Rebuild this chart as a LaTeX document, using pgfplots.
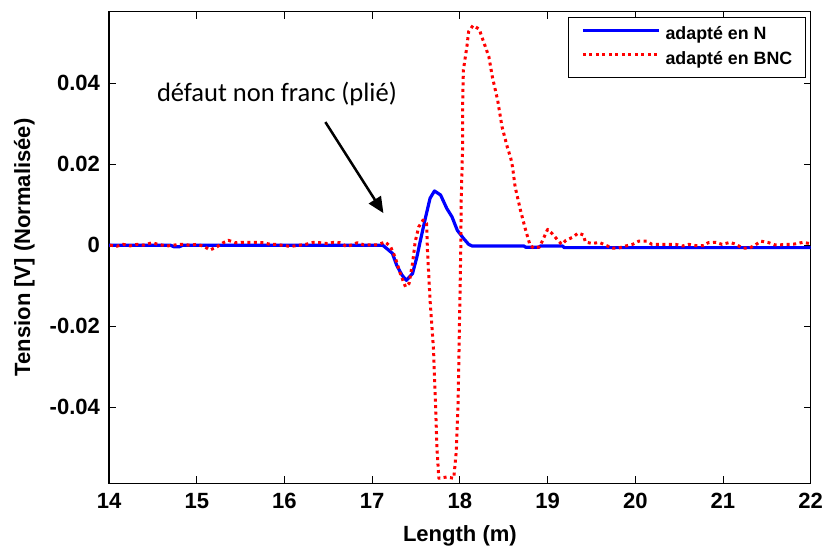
\documentclass[border=0pt]{standalone}
\usepackage{fontspec}
\setmainfont{Liberation Sans}
\newfontfamily\annfont{Carlito}
\usepackage{pgfplots}
\pgfplotsset{compat=1.18}
\usetikzlibrary{arrows.meta}
\begin{document}
\begin{tikzpicture}
\begin{axis}[
  scale only axis,
  width=701bp, height=471bp,
  at={(0,0)}, anchor=south west,
  xmin=14, xmax=22, ymin=-0.0588, ymax=0.0577,
  axis line style={line width=1.2bp},
  tick align=inside,
  xtick pos=both, ytick pos=both,
  major tick length=7bp,
  tick style={line width=0.8bp, black},
  xtick={14,15,16,17,18,19,20,21,22},
  xticklabels={14,15,16,17,18,19,20,21,22},
  ytick={-0.04,-0.02,0,0.02,0.04},
  yticklabels={-0.04,-0.02,0,0.02,0.04},
  scaled y ticks=false,
  scaled x ticks=false,
  every tick label/.append style={font=\bfseries\fontsize{22bp}{26bp}\selectfont},
  xticklabel style={inner sep=0pt, anchor=north, yshift=-10bp},
  yticklabel style={inner sep=0pt, anchor=east, xshift=-9bp},
  xlabel={Length (m)},
  ylabel={Tension [V] (Normalisée)},
  label style={font=\bfseries\fontsize{22bp}{26bp}\selectfont},
  xlabel style={at={(axis description cs:0.5,0)}, anchor=base, yshift=-58bp, inner sep=0pt},
  ylabel style={at={(axis description cs:-0.1127,0.5)}, anchor=base, inner sep=0pt},
  legend style={at={(axis description cs:0.9929,0.9887)}, anchor=north east,
    draw=black, line width=0.8bp, fill=white,
    font=\bfseries\fontsize{17.8bp}{21bp}\selectfont,
    inner xsep=13bp, inner ysep=10bp, row sep=9bp, column sep=5bp,
    nodes={inner sep=0pt, text height=12.5bp, text depth=3bp}},
  legend cell align=left,
  legend image code/.code={\draw[#1] (0bp,5bp) -- (76bp,5bp);},
  clip=true,
]
\addplot[color=blue, line width=3.2bp, line join=round] coordinates {
(14.00,0) (14.70,0) (14.74,-0.0004) (14.80,-0.0004) (14.84,0) (17.12,0)
(17.23,-0.0020) (17.28,-0.0050) (17.34,-0.0074) (17.39,-0.0087) (17.46,-0.0070)
(17.51,-0.0029) (17.55,0.0012) (17.61,0.0070) (17.66,0.0116) (17.71,0.0134)
(17.78,0.0124) (17.85,0.0091) (17.91,0.0070) (17.97,0.0037) (18.04,0.0017)
(18.10,0.0002) (18.14,-0.0002) (18.73,-0.0002) (18.75,-0.0005) (18.90,-0.0005)
(18.92,-0.0002) (19.17,-0.0002) (19.19,-0.0006) (22.00,-0.0006)
};
\addlegendentry{adapté en N}
\addplot[color=red, line width=3bp, dash pattern=on 3bp off 3.5bp, line join=round] coordinates {
(14.01,0) (14.09,-0.00025) (14.16,0.0002) (14.24,-0.00017) (14.32,0.0002) (14.39,0)
(14.49,0.0006) (14.56,0.0002) (14.66,-0.0002) (14.77,0.0001) (14.83,0.0002) (14.92,0)
(15.00,0.0002) (15.08,-0.00025) (15.15,-0.0012) (15.23,-0.0004) (15.30,0.0006)
(15.36,0.0012) (15.44,0.0006) (15.51,0.0007) (15.59,0.0007) (15.67,0.0007)
(15.76,0.0006) (15.84,0.0002) (15.91,0.0002) (15.99,-0.0001) (16.07,-0.0003)
(16.14,-0.0001) (16.24,0.0002) (16.33,0.0007) (16.41,0.0006) (16.49,0.0004)
(16.56,0.0007) (16.64,0.0006) (16.71,-0.0004) (16.83,0.0006) (16.90,0.0001)
(16.98,0.0001) (17.06,0.0001) (17.15,0.0008) (17.21,-0.0004) (17.26,-0.0029)
(17.32,-0.0070) (17.38,-0.0103) (17.42,-0.0095) (17.46,-0.0045) (17.49,0.0008)
(17.53,0.0045) (17.58,0.0062) (17.62,0.0054) (17.63,-0.0012) (17.66,-0.0136)
(17.70,-0.0260) (17.72,-0.0383) (17.74,-0.0507) (17.76,-0.0576) (17.85,-0.0573)
(17.93,-0.0576) (17.96,-0.0507) (17.98,-0.0383) (17.99,-0.0260) (18.00,-0.0136)
(18.01,-0.0012) (18.015,0.0111) (18.03,0.0235) (18.03,0.0334) (18.04,0.0433)
(18.08,0.0491) (18.10,0.0528) (18.15,0.0543) (18.22,0.0534) (18.27,0.0503)
(18.33,0.0466) (18.37,0.0416) (18.43,0.0359) (18.48,0.0293) (18.54,0.0243)
(18.58,0.0215) (18.60,0.0194) (18.63,0.0144) (18.69,0.0087) (18.75,0.0037)
(18.80,0) (18.84,-0.0007) (18.91,-0.0004) (18.96,0.0020) (19.00,0.0039)
(19.05,0.0029) (19.11,0.0014) (19.16,0.0002) (19.21,0.0012) (19.28,0.0019)
(19.35,0.0030) (19.41,0.0025) (19.43,0.0008) (19.51,0.0004) (19.59,0.0007)
(19.66,0) (19.74,-0.0007) (19.81,-0.0007) (19.89,-0.0002) (19.97,0.0002)
(20.04,0.0010) (20.13,0.0010) (20.19,0.0002) (20.28,0.0002) (20.37,0.0002)
(20.46,0.0002) (20.54,-0.0002) (20.61,0.0002) (20.69,-0.0001) (20.78,-0.0001)
(20.83,0.0006) (20.92,0.0007) (20.99,0.0002) (21.08,0.0007) (21.15,0.0002)
(21.22,-0.0007) (21.30,-0.0007) (21.36,-0.0001) (21.43,0.0010) (21.51,0.0007)
(21.59,0.0001) (21.66,0.0001) (21.74,0.0002) (21.82,0.0003) (21.91,0.0007)
(21.99,0.0004)
};
\addlegendentry{adapté en BNC}
\node[font=\annfont\fontsize{26.5bp}{31bp}\selectfont, inner sep=0pt, anchor=center]
  at (axis cs:15.914,0.03736) {défaut non franc (plié)};
\draw[line width=2.5bp, -{Triangle[length=16bp,width=14bp]}]
  (axis cs:16.466,0.03043) -- (axis cs:17.128,0.00792);
\end{axis}
\pgfresetboundingbox
\useasboundingbox (-109bp,-64.3bp) rectangle (716.3bp,482.7bp);
\end{tikzpicture}
\end{document}
